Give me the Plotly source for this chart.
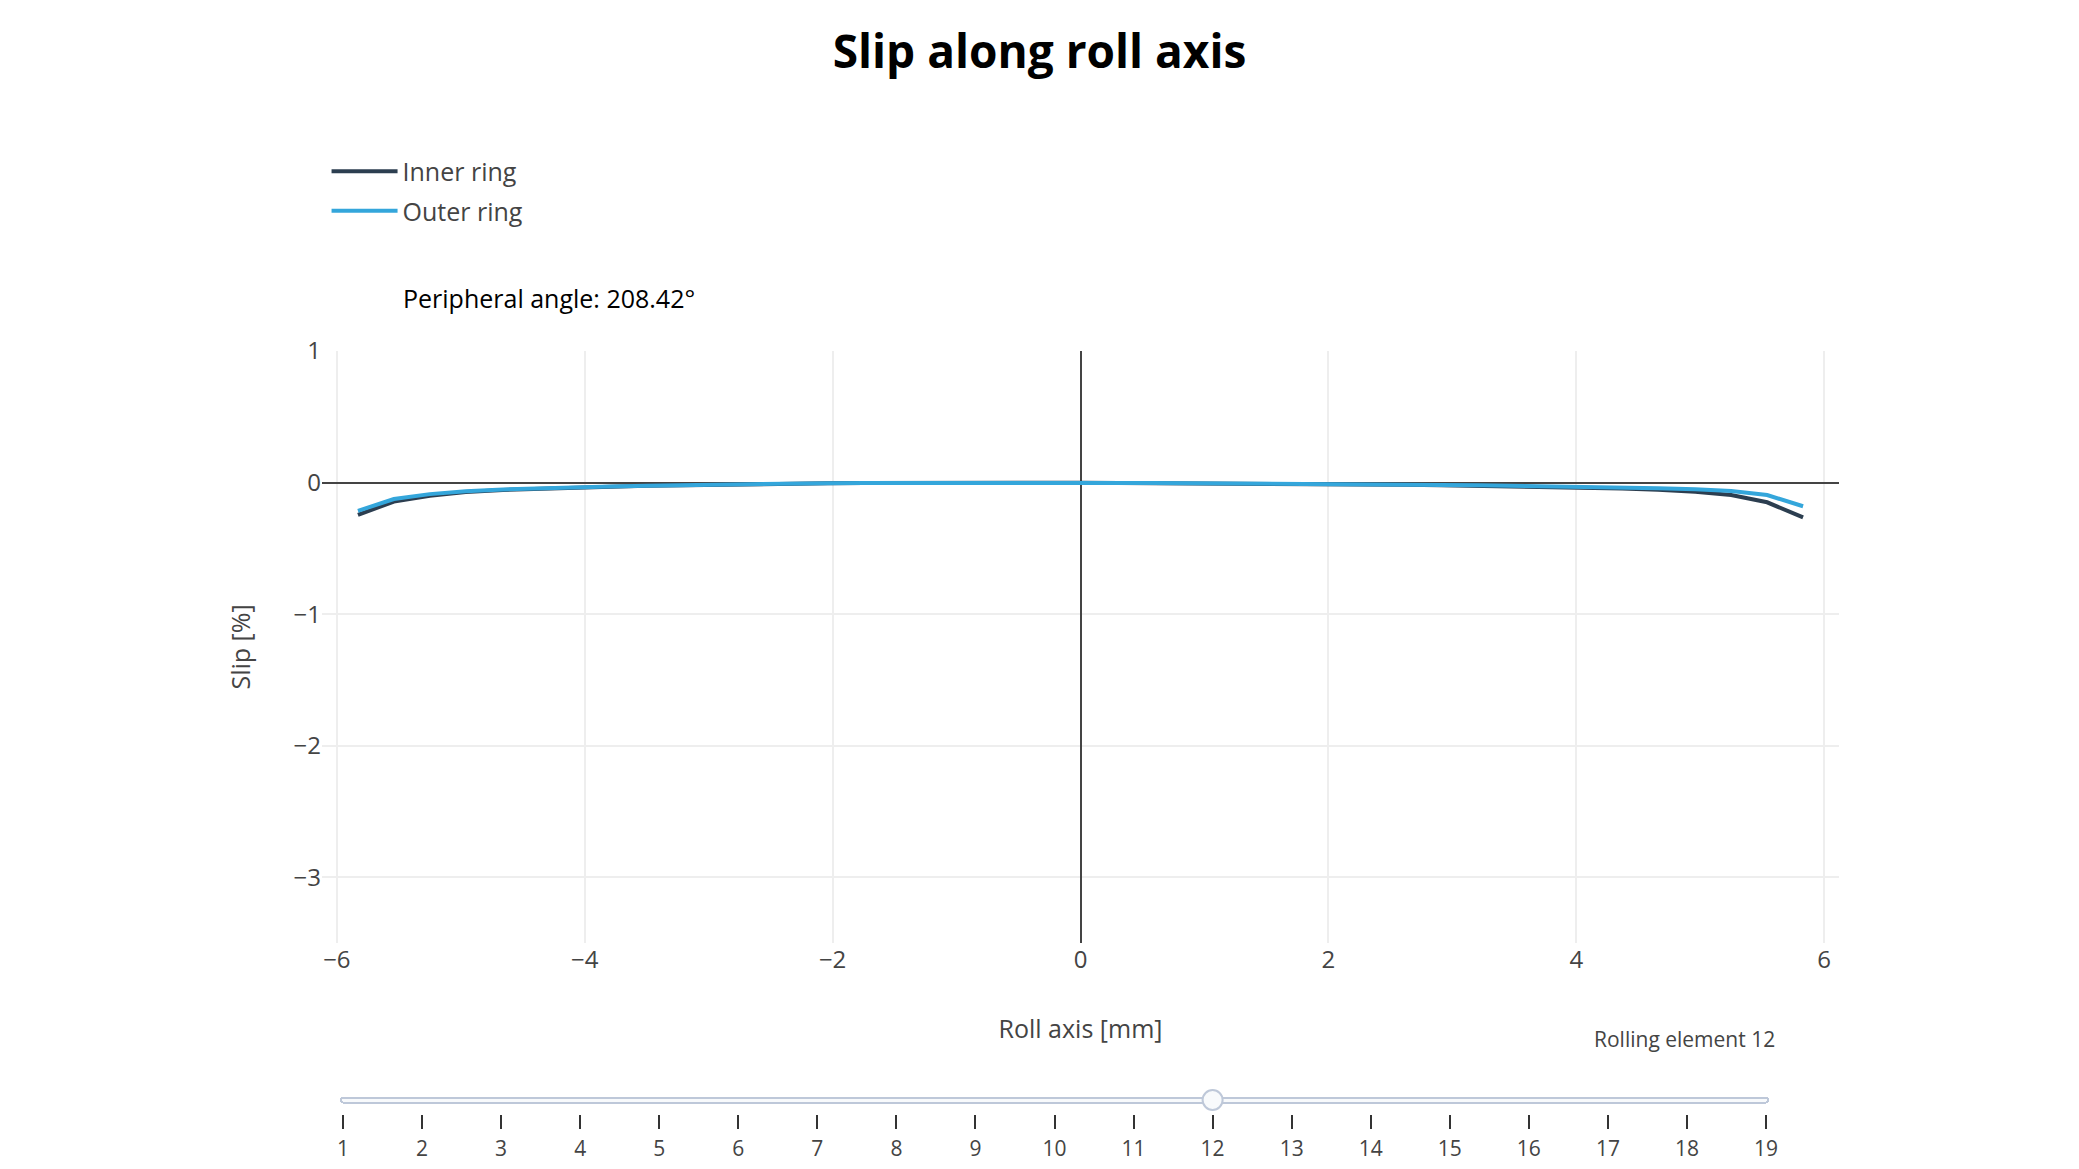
import plotly.graph_objects as go

# roll axis positions [mm]
roll_axis = [-5.83, -5.54, -5.25, -4.96, -4.66, -4.37, -4.08, -3.79, -3.50, -3.21,
             -2.91, -2.62, -2.33, -2.04, -1.75, -1.46, -1.17, -0.87, -0.58, -0.29,
             0.00, 0.29, 0.58, 0.87, 1.17, 1.46, 1.75, 2.04, 2.33, 2.62,
             2.91, 3.21, 3.50, 3.79, 4.08, 4.37, 4.66, 4.96, 5.25, 5.54, 5.83]

# slip [%]
inner_ring = [-0.245, -0.145, -0.100, -0.072, -0.056, -0.046, -0.038, -0.031, -0.025, -0.020,
              -0.015, -0.011, -0.008, -0.006, -0.004, -0.002, -0.001, 0.000, 0.000, -0.001,
              -0.002, -0.003, -0.004, -0.005, -0.006, -0.008, -0.010, -0.012, -0.014, -0.017,
              -0.020, -0.024, -0.028, -0.033, -0.039, -0.046, -0.055, -0.070, -0.095, -0.150, -0.265]
outer_ring = [-0.215, -0.125, -0.088, -0.066, -0.052, -0.043, -0.036, -0.030, -0.024, -0.019,
              -0.014, -0.010, -0.007, -0.005, -0.003, -0.002, -0.001, 0.000, 0.000, -0.001,
              -0.002, -0.003, -0.004, -0.005, -0.006, -0.007, -0.009, -0.011, -0.013, -0.015,
              -0.018, -0.021, -0.024, -0.028, -0.032, -0.037, -0.043, -0.050, -0.064, -0.095, -0.180]

rolling_elements = [str(i) for i in range(1, 20)]
active_element = 12
peripheral_angle = "208.42°"

fig = go.Figure()
fig.add_trace(go.Scatter(x=roll_axis, y=inner_ring, mode="lines", name="Inner ring",
                         legendgroup="inner", line=dict(color="#2c3e50", width=4)))
fig.add_trace(go.Scatter(x=roll_axis, y=outer_ring, mode="lines", name="Outer ring",
                         legendgroup="outer", line=dict(color="#34a6db", width=4)))

steps = [dict(label=e, method="skip", args=[None]) for e in rolling_elements]

# page has an 8px body margin, so the figure is 16px smaller than the window
fig.update_layout(
    template="none",
    width=2063,
    height=1153,
    font=dict(family="Open Sans", size=24, color="#444"),
    margin=dict(l=314, r=232, t=343, b=218, autoexpand=False),
    title=dict(text="<b>Slip along roll axis</b>", x=0.5, xanchor="center",
               y=0.962, yanchor="middle", font=dict(size=46, color="black")),
    legend=dict(x=0.003, y=1.342, xanchor="left", yanchor="top", itemwidth=66,
                tracegroupgap=4, font=dict(size=25)),
    xaxis=dict(range=[-6.12, 6.12], dtick=2, gridcolor="#eee", gridwidth=2,
               zeroline=True, zerolinecolor="#444", zerolinewidth=2,
               showline=False, ticks="",
               title=dict(text="Roll axis [mm]", standoff=46, font=dict(size=25))),
    yaxis=dict(range=[-3.5, 1], dtick=1, gridcolor="#eee", gridwidth=2,
               zeroline=True, zerolinecolor="#444", zerolinewidth=2,
               showline=False, ticks="",
               title=dict(text="Slip [%]", standoff=35, font=dict(size=25))),
    annotations=[dict(text="Peripheral angle: " + peripheral_angle, xref="paper", yref="paper",
                      x=0.052, y=1.0895, xanchor="left", yanchor="middle", showarrow=False,
                      font=dict(size=25, color="black"))],
    sliders=[dict(
        active=rolling_elements.index(str(active_element)),
        steps=steps,
        x=0.007, len=0.951, y=-0.096, yanchor="top",
        pad=dict(t=20, l=0, r=0, b=0),
        ticklen=14, tickwidth=2, tickcolor="#333",
        borderwidth=2,
        font=dict(size=21, color="#444"),
        currentvalue=dict(prefix="Rolling element ", xanchor="right", offset=42,
                          font=dict(size=21, color="#444")),
    )],
)

fig.write_html("out.html")
